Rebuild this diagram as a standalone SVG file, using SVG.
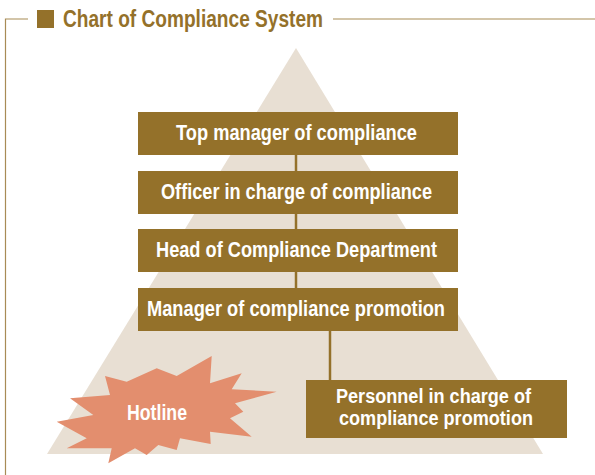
<svg xmlns="http://www.w3.org/2000/svg" width="595" height="475" viewBox="0 0 595 475">
<style>
.box{fill:#94712A}
.t{font-family:"Liberation Sans",Arial,sans-serif;font-weight:bold;fill:#fff;font-size:22px}
.s{font-size:20px}
.title{font-family:"Liberation Sans",Arial,sans-serif;font-weight:bold;fill:#94712A;font-size:23.5px}
.frame{stroke:#A88B55;stroke-width:1.2;fill:none}
.conn{stroke:#94712A;stroke-width:2.5;fill:none}
</style>
<rect width="595" height="475" fill="#fff"/>
<g id="frame">
<path class="frame" d="M28,19 H5.5 V475"/>
<path class="frame" d="M333,19 H595"/>
<rect x="37" y="10" width="17" height="18" fill="#94712A"/>
<text class="title" x="63" y="27" textLength="260" lengthAdjust="spacingAndGlyphs">Chart of Compliance System</text>
</g>
<polygon id="pyramid" points="296,48 543,454 47,454" fill="#E8DFD3"/>
<g id="connectors">
<line class="conn" x1="296" y1="155" x2="296" y2="171"/>
<line class="conn" x1="296" y1="214" x2="296" y2="229"/>
<line class="conn" x1="296" y1="272" x2="296" y2="288"/>
<line class="conn" x1="330" y1="331" x2="330" y2="380"/>
</g>
<g id="n1"><rect class="box" x="138" y="112" width="320" height="43"/><text class="t" x="176" y="140" textLength="241" lengthAdjust="spacingAndGlyphs">Top manager of compliance</text></g>
<g id="n2"><rect class="box" x="138" y="171" width="320" height="43"/><text class="t" x="161" y="199" textLength="271" lengthAdjust="spacingAndGlyphs">Officer in charge of compliance</text></g>
<g id="n3"><rect class="box" x="138" y="229" width="320" height="43"/><text class="t" x="156" y="257" textLength="281" lengthAdjust="spacingAndGlyphs">Head of Compliance Department</text></g>
<g id="n4"><rect class="box" x="138" y="288" width="320" height="43"/><text class="t" x="147" y="316" textLength="298" lengthAdjust="spacingAndGlyphs">Manager of compliance promotion</text></g>
<g id="n5"><rect class="box" x="306" y="380" width="261" height="58"/><text class="t s" x="336" y="403" textLength="195" lengthAdjust="spacingAndGlyphs">Personnel in charge of</text><text class="t s" x="339" y="425" textLength="194" lengthAdjust="spacingAndGlyphs">compliance promotion</text></g>
<g id="hotline">
<polygon fill="#E38E6E" points="105,376 126.7,381.7 156.7,368.3 176.7,376 211.7,356 210,383.3 241.7,373.3 231.7,389.3 276.7,391.7 235,403.3 243.3,411.7 230,418.3 251.7,436.7 210,431.7 210.7,444 180,438.3 176.7,450 158.3,445 146.7,455 135,448.3 108.3,463.3 111.7,448.3 66.7,448.3 86.7,438.3 56.7,421.7 93.3,415 70,398.3 110,395"/>
<text class="t" x="127" y="420" textLength="60" lengthAdjust="spacingAndGlyphs">Hotline</text>
</g>
</svg>
